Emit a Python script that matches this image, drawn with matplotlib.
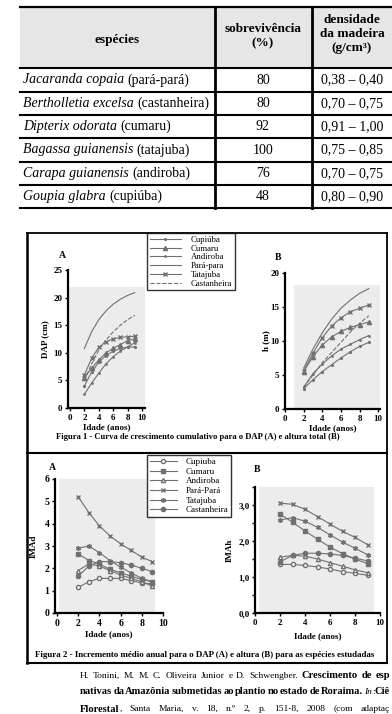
"""
Tabela de sobrevivência/densidade e curvas de crescimento (Tonini et al., 2008)
"""
import matplotlib
matplotlib.use('Agg')
import matplotlib.pyplot as plt
from matplotlib.patches import Rectangle
from matplotlib.lines import Line2D
from matplotlib.ticker import MultipleLocator, FuncFormatter

plt.rcParams['font.family'] = ['Liberation Serif', 'DejaVu Serif']

W, H = 392, 714

# ---- tabela ----
especies = ['Jacaranda copaia', 'Bertholletia excelsa', 'Dipterix odorata',
            'Bagassa guianensis', 'Carapa guianensis', 'Goupia glabra']
nomes = ['pará-pará', 'castanheira', 'cumaru', 'tatajuba', 'andiroba', 'cupiúba']
sobrevivencia = [80, 80, 92, 100, 76, 48]
densidade = ['0,38 – 0,40', '0,70 – 0,75', '0,91 – 1,00',
             '0,75 – 0,85', '0,70 – 0,75', '0,80 – 0,90']

idade = [2, 3, 4, 5, 6, 7, 8, 9]

# ---- figura 1: DAP (cm) ----
dap_cupiuba = [4.0, 6.5, 8.3, 9.5, 10.3, 10.8, 11.0, 11.1]
dap_cumaru = [5.5, 7.2, 8.7, 10.0, 10.8, 11.5, 12.2, 12.5]
dap_andiroba = [2.5, 4.5, 6.3, 8.0, 9.3, 10.3, 11.1, 11.8]
dap_parapara = [10.8, 13.8, 16.0, 17.6, 18.8, 19.7, 20.4, 20.9]
dap_tatajuba = [6.0, 9.0, 11.0, 12.0, 12.5, 12.8, 12.9, 13.0]
dap_castanheira = [5.0, 8.0, 10.5, 12.3, 13.8, 15.0, 16.0, 16.8]

# ---- figura 1: altura (m) ----
h_cupiuba = [3.0, 4.3, 5.5, 6.5, 7.5, 8.4, 9.2, 9.8]
h_cumaru = [5.5, 7.7, 9.4, 10.6, 11.4, 12.0, 12.4, 12.8]
h_andiroba = [3.2, 5.2, 6.6, 7.8, 8.8, 9.5, 10.2, 10.8]
h_parapara = [6.0, 8.8, 11.2, 13.2, 14.8, 16.0, 17.0, 17.7]
h_tatajuba = [5.6, 8.2, 10.5, 12.2, 13.4, 14.3, 14.8, 15.3]
h_castanheira = [3.2, 5.0, 6.8, 8.3, 9.8, 11.3, 12.6, 13.7]

# ---- figura 2: IMAd ----
imad_cupiuba = [1.15, 1.4, 1.55, 1.55, 1.55, 1.45, 1.35, 1.3]
imad_cumaru = [2.65, 2.35, 2.2, 1.95, 1.8, 1.65, 1.5, 1.4]
imad_andiroba = [1.9, 2.2, 2.1, 1.9, 1.7, 1.55, 1.4, 1.2]
imad_parapara = [5.2, 4.5, 3.9, 3.45, 3.1, 2.8, 2.5, 2.3]
imad_tatajuba = [2.9, 3.0, 2.7, 2.35, 2.05, 1.8, 1.55, 1.4]
imad_castanheira = [1.65, 2.1, 2.3, 2.3, 2.25, 2.15, 2.0, 1.85]

# ---- figura 2: IMAh ----
imah_cupiuba = [1.35, 1.35, 1.32, 1.28, 1.22, 1.15, 1.1, 1.05]
imah_cumaru = [2.75, 2.52, 2.28, 2.05, 1.83, 1.65, 1.5, 1.37]
imah_andiroba = [1.55, 1.6, 1.58, 1.5, 1.4, 1.3, 1.2, 1.12]
imah_parapara = [3.05, 3.02, 2.88, 2.68, 2.47, 2.27, 2.1, 1.9]
imah_tatajuba = [2.58, 2.65, 2.55, 2.38, 2.17, 1.97, 1.8, 1.62]
imah_castanheira = [1.42, 1.6, 1.66, 1.66, 1.64, 1.6, 1.52, 1.45]

legenda1 = ['Cupiúba', 'Cumaru', 'Andiroba', 'Pará-para', 'Tatajuba', 'Castanheira']
legenda2 = ['Cupiuba', 'Cumaru', 'Andiroba', 'Pará-Pará', 'Tatajuba', 'Castanheira']

CINZA = '#707070'
FUNDO = '#ececec'
NORMAL = {'fontsize': 6.8}
NEGRITO = {'fontweight': 'bold', 'fontsize': 7.6}
ITALICO = {'style': 'italic', 'fontsize': 6.8}

fig = plt.figure(figsize=(W / 100, H / 100), dpi=100)
renderer = fig.canvas.get_renderer()


def fx(x):
    return x / W


def fy(y):
    return 1 - y / H


def linha(x0, y0, x1, y1, lw=1.5):
    fig.add_artist(Line2D([fx(x0), fx(x1)], [fy(y0), fy(y1)], color='black',
                          lw=lw, transform=fig.transFigure))


def largura(t):
    return t.get_window_extent(renderer=renderer).width


def texto_misto(x, y, partes, size, esp_em=0.25):
    # escreve trechos com estilos diferentes em sequência
    esp = size * esp_em * 100 / 72
    for txt, kw in partes:
        t = fig.text(fx(x), fy(y), txt, fontsize=size, ha='left', va='center', **kw)
        x += largura(t) + esp
    return x


def texto_justificado(x0, x1, y, partes):
    # partes: (texto, estilo, espaço antes?) distribuídas de x0 a x1
    objs = [fig.text(fx(x0), fy(y), txt, ha='left', va='center', **kw)
            for txt, kw, _ in partes]
    larg = [largura(t) for t in objs]
    n_esp = sum(1 for _, _, sp in partes[1:] if sp)
    gap = (x1 - x0 - sum(larg)) / max(n_esp, 1)
    x = x0
    for i, (t, (_, _, sp)) in enumerate(zip(objs, partes)):
        if i > 0 and sp:
            x += gap
        t.set_x(fx(x))
        x += larg[i]


def palavras(frase, kw, primeira_com_espaco=True):
    ws = frase.split()
    return [(w, kw, primeira_com_espaco or i > 0) for i, w in enumerate(ws)]


def eixo(left, top, right, bottom):
    return fig.add_axes([fx(left), fy(bottom), (right - left) / W, (bottom - top) / H])


def estilo(ax):
    ax.set_facecolor('none')
    for s in ['top', 'right']:
        ax.spines[s].set_visible(False)
    for s in ['left', 'bottom']:
        ax.spines[s].set_linewidth(1.6)
    ax.tick_params(labelsize=6.5, width=1, length=2.5, pad=1.5)
    for lab in ax.get_xticklabels() + ax.get_yticklabels():
        lab.set_fontweight('bold')


# ======== tabela ========
fig.add_artist(Rectangle((fx(20), fy(68)), fx(392) - fx(20), fy(7) - fy(68),
                         transform=fig.transFigure, facecolor='#e6e6e6', edgecolor='none'))
linha(20, 7, 392, 7, 1.6)
linhas_y = [68, 92, 115, 138, 162, 185, 208]
for yy in linhas_y:
    linha(20, yy, 392, yy, 1.5)
linha(215, 7, 215, 208, 2.0)
linha(312, 7, 312, 208, 2.0)

fig.text(fx(117), fy(40), 'espécies', fontsize=9.5, fontweight='bold', ha='center', va='center')
fig.text(fx(263), fy(36), 'sobrevivência\n(%)', fontsize=9.5, fontweight='bold',
         ha='center', va='center', linespacing=1.2)
fig.text(fx(352), fy(34), 'densidade\nda madeira\n(g/cm³)', fontsize=9.5, fontweight='bold',
         ha='center', va='center', linespacing=1.2)

for i in range(len(especies)):
    yc = (linhas_y[i] + linhas_y[i + 1]) / 2
    texto_misto(23, yc, [(especies[i], {'style': 'italic'}), ('(' + nomes[i] + ')', {})], 10)
    fig.text(fx(263), fy(yc), str(sobrevivencia[i]), fontsize=10, ha='center', va='center')
    fig.text(fx(352), fy(yc), densidade[i], fontsize=10, ha='center', va='center')

# ======== molduras das figuras ========
linha(27, 233, 387, 233, 1.3)
linha(27, 453, 387, 453, 1.5)
linha(27, 663, 387, 663, 1.5)
linha(27, 233, 27, 663, 1.8)
linha(387, 233, 387, 663, 1.3)

# ======== figura 1 A ========
ax1 = eixo(68, 270, 145, 408)
ax1.add_patch(Rectangle((-0.28, 0), 10.7, 22, facecolor=FUNDO, edgecolor='none', zorder=0))
ax1.plot(idade, dap_cupiuba, color=CINZA, lw=0.8, marker='.', ms=2.5)
ax1.plot(idade, dap_cumaru, color=CINZA, lw=0.8, marker='^', ms=3)
ax1.plot(idade, dap_andiroba, color=CINZA, lw=0.8, marker='.', ms=2)
ax1.plot(idade, dap_parapara, color=CINZA, lw=0.8)
ax1.plot(idade, dap_tatajuba, color=CINZA, lw=0.8, marker='x', ms=3)
ax1.plot(idade, dap_castanheira, color=CINZA, lw=0.8, ls='--')
ax1.set_xlim(-0.28, 10.42)
ax1.set_ylim(0, 25)
ax1.xaxis.set_major_locator(MultipleLocator(2))
ax1.yaxis.set_major_locator(MultipleLocator(5))
ax1.set_xlabel('Idade (anos)', fontsize=6.5, fontweight='bold', labelpad=1)
ax1.set_ylabel('DAP (cm)', fontsize=6.5, fontweight='bold', labelpad=3)
estilo(ax1)
fig.text(fx(62), fy(255), 'A', fontsize=7, fontweight='bold', ha='center', va='center')

# ======== figura 1 B ========
ax2 = eixo(285, 273, 380, 409)
ax2.add_patch(Rectangle((1.0, 0), 9.2, 18.3, facecolor=FUNDO, edgecolor='none', zorder=0))
ax2.plot(idade, h_cupiuba, color=CINZA, lw=0.8, marker='.', ms=2.5)
ax2.plot(idade, h_cumaru, color=CINZA, lw=0.8, marker='^', ms=3)
ax2.plot(idade, h_andiroba, color=CINZA, lw=0.8, marker='.', ms=2)
ax2.plot(idade, h_parapara, color=CINZA, lw=0.8)
ax2.plot(idade, h_tatajuba, color=CINZA, lw=0.8, marker='x', ms=3)
ax2.plot(idade, h_castanheira, color=CINZA, lw=0.8, ls='--')
ax2.set_xlim(0, 10.2)
ax2.set_ylim(0, 20)
ax2.xaxis.set_major_locator(MultipleLocator(2))
ax2.yaxis.set_major_locator(MultipleLocator(5))
ax2.set_xlabel('Idade (anos)', fontsize=6.5, fontweight='bold', labelpad=1)
ax2.set_ylabel('h (m)', fontsize=6.5, fontweight='bold', labelpad=0)
estilo(ax2)
fig.text(fx(278), fy(257), 'B', fontsize=7, fontweight='bold', ha='center', va='center')

h1 = [Line2D([], [], color=CINZA, lw=0.8, marker='.', ms=2.5),
      Line2D([], [], color=CINZA, lw=0.8, marker='^', ms=3),
      Line2D([], [], color=CINZA, lw=0.8, marker='.', ms=2),
      Line2D([], [], color=CINZA, lw=0.8),
      Line2D([], [], color=CINZA, lw=0.8, marker='x', ms=3),
      Line2D([], [], color=CINZA, lw=0.8, ls='--')]
leg1 = fig.legend(h1, legenda1, loc='upper left', bbox_to_anchor=(fx(147), fy(233)),
                  fontsize=6.3, frameon=True, fancybox=False, edgecolor='black',
                  borderpad=0.3, labelspacing=0.08, handlelength=3.6, handletextpad=1.1,
                  borderaxespad=0)
leg1.get_frame().set_linewidth(1.0)

fig.text(fx(198), fy(437), 'Figura 1 - Curva de crescimento cumulativo para o DAP (A) e altura total (B)',
         fontsize=6.2, fontweight='bold', ha='center', va='center')

# ======== figura 2 A ========
ax3 = eixo(55, 479, 163, 613)
ax3.add_patch(Rectangle((0.2, 0), 9.0, 6, facecolor=FUNDO, edgecolor='none', zorder=0))
ax3.plot(idade, imad_cupiuba, color=CINZA, lw=0.8, marker='o', ms=3, mfc='white')
ax3.plot(idade, imad_cumaru, color=CINZA, lw=0.8, marker='s', ms=3)
ax3.plot(idade, imad_andiroba, color=CINZA, lw=0.8, marker='^', ms=3, mfc='white')
ax3.plot(idade, imad_parapara, color=CINZA, lw=0.8, marker='x', ms=3.5)
ax3.plot(idade, imad_tatajuba, color=CINZA, lw=0.8, marker=(6, 2, 0), ms=3.5)
ax3.plot(idade, imad_castanheira, color=CINZA, lw=0.8, marker='o', ms=3)
ax3.set_xlim(-0.19, 10)
ax3.set_ylim(0, 6)
ax3.xaxis.set_major_locator(MultipleLocator(2))
ax3.yaxis.set_major_locator(MultipleLocator(1))
ax3.set_xlabel('Idade (anos)', fontsize=6.5, fontweight='bold', labelpad=2)
ax3.set_ylabel('IMAd', fontsize=6.5, fontweight='bold', labelpad=5)
estilo(ax3)
ax3.tick_params(labelsize=7)
fig.text(fx(52), fy(467), 'A', fontsize=7, fontweight='bold', ha='center', va='center')

# ======== figura 2 B ========
ax4 = eixo(255, 487, 380, 613)
ax4.add_patch(Rectangle((0.3, 0), 9.2, 3.5, facecolor=FUNDO, edgecolor='none', zorder=0))
ax4.plot(idade, imah_cupiuba, color=CINZA, lw=0.8, marker='o', ms=3, mfc='white')
ax4.plot(idade, imah_cumaru, color=CINZA, lw=0.8, marker='s', ms=3)
ax4.plot(idade, imah_andiroba, color=CINZA, lw=0.8, marker='^', ms=3, mfc='white')
ax4.plot(idade, imah_parapara, color=CINZA, lw=0.8, marker='x', ms=3.5)
ax4.plot(idade, imah_tatajuba, color=CINZA, lw=0.8, marker=(6, 2, 0), ms=3.5)
ax4.plot(idade, imah_castanheira, color=CINZA, lw=0.8, marker='o', ms=3)
ax4.set_xlim(0, 10)
ax4.set_ylim(0, 3.5)
ax4.xaxis.set_major_locator(MultipleLocator(2))
ax4.yaxis.set_major_locator(MultipleLocator(1))
ax4.yaxis.set_minor_locator(MultipleLocator(0.5))
ax4.yaxis.set_major_formatter(FuncFormatter(lambda v, p: f'{v:.1f}'.replace('.', ',')))
ax4.set_xlabel('Idade (anos)', fontsize=6.5, fontweight='bold', labelpad=4)
ax4.set_ylabel('IMAh', fontsize=6.5, fontweight='bold', labelpad=3)
estilo(ax4)
ax4.tick_params(which='minor', width=1, length=2.5)
fig.text(fx(257), fy(470), 'B', fontsize=7, fontweight='bold', ha='center', va='center')

h2 = [Line2D([], [], color=CINZA, lw=0.8, marker='o', ms=3, mfc='white'),
      Line2D([], [], color=CINZA, lw=0.8, marker='s', ms=3),
      Line2D([], [], color=CINZA, lw=0.8, marker='^', ms=3, mfc='white'),
      Line2D([], [], color=CINZA, lw=0.8, marker='x', ms=3.5),
      Line2D([], [], color=CINZA, lw=0.8, marker=(6, 2, 0), ms=3.5),
      Line2D([], [], color=CINZA, lw=0.8, marker='o', ms=3)]
leg2 = fig.legend(h2, legenda2, loc='upper left', bbox_to_anchor=(fx(147), fy(455)),
                  fontsize=6.5, frameon=True, fancybox=False, edgecolor='black',
                  borderpad=0.3, labelspacing=0.15, handlelength=3.0, handletextpad=1.0,
                  borderaxespad=0)
leg2.get_frame().set_linewidth(1.0)

fig.text(fx(205), fy(655), 'Figura 2 - Incremento médio anual para o DAP (A) e altura (B) para as espécies estudadas',
         fontsize=6.4, fontweight='bold', ha='center', va='center')

# ======== referência (cortada na margem direita, como no original) ========
linha1 = palavras('H. Tonini, M. M. C. Oliveira Junior e D. Schwengber.', NORMAL, False)
linha1 += palavras('Crescimento de esp', NEGRITO)
texto_justificado(80, 390, 676, linha1)

linha2 = palavras('nativas da Amazônia submetidas ao plantio no estado de Roraima.', NEGRITO, False)
linha2 += [('In', ITALICO, True), (':', NORMAL, False), ('Ciê', NEGRITO, False)]
texto_justificado(80, 390, 692, linha2)

linha3 = [('Florestal', NEGRITO, False), (',', NORMAL, False)]
linha3 += palavras('Santa Maria, v. 18, n.º 2, p. 151-8, 2008 (com adaptaç', NORMAL)
texto_justificado(80, 390, 709, linha3)

fig.savefig('out.png', dpi=100)
